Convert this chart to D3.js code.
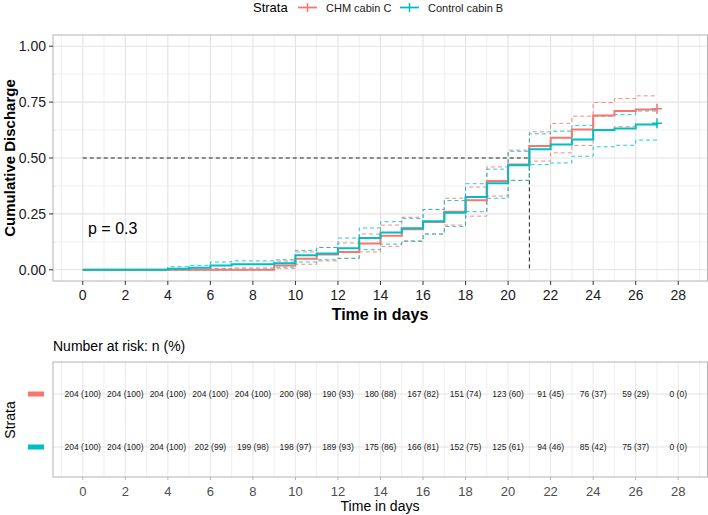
<!DOCTYPE html>
<html><head><meta charset="utf-8">
<script src="https://cdn.jsdelivr.net/npm/d3@7"></script>
<style>body{margin:0;background:#fff}svg{display:block;font-family:"Liberation Sans",Arial,sans-serif}</style>
</head><body><svg id="c" width="708" height="515"></svg>
<script>
// ---- data ----
const strata = ["CHM cabin C", "Control cabin B"];
const colors = ["#F8766D", "#00BFC4"];
const days = [0,1,2,3,4,5,6,7,8,9,10,11,12,13,14,15,16,17,18,19,20,21,22,23,24,25,26,27];
const chmEst = [0,0,0,0,0,0,0,0,0,0.0196,0.05,0.069,0.08,0.118,0.152,0.181,0.214,0.26,0.311,0.397,0.471,0.554,0.59,0.627,0.69,0.71,0.717,0.72];
const chmUpper = [0,0,0,0,0,0,0,0,0,0.039,0.08,0.10,0.12,0.16,0.20,0.235,0.27,0.32,0.37,0.46,0.535,0.617,0.655,0.687,0.748,0.766,0.778,0.778];
const chmLower = [0,0,0,0,0,0,0,0,0,0.007,0.025,0.04,0.05,0.08,0.105,0.13,0.16,0.20,0.24,0.33,0.40,0.486,0.523,0.556,0.625,0.64,0.65,0.65];
const ctlEst = [0,0,0,0,0.0049,0.0098,0.0196,0.0245,0.0245,0.029,0.065,0.0735,0.097,0.142,0.167,0.186,0.217,0.255,0.326,0.387,0.468,0.539,0.56,0.583,0.625,0.632,0.65,0.655];
const ctlUpper = [0,0,0,0,0.014,0.02,0.035,0.04,0.04,0.045,0.087,0.10,0.142,0.187,0.215,0.23,0.27,0.31,0.385,0.45,0.53,0.608,0.62,0.646,0.687,0.694,0.71,0.71];
const ctlLower = [0,0,0,0,0,0,0.005,0.008,0.008,0.012,0.035,0.045,0.052,0.09,0.115,0.127,0.16,0.194,0.26,0.32,0.40,0.47,0.478,0.508,0.55,0.557,0.58,0.58];
const medianDay = 21;
const pText = "p = 0.3";
const xTicks = [0,2,4,6,8,10,12,14,16,18,20,22,24,26,28];
const yTicks = [0, 0.25, 0.5, 0.75, 1.0];
const yTickLabels = ["0.00","0.25","0.50","0.75","1.00"];
const riskTimes = [0,2,4,6,8,10,12,14,16,18,20,22,24,26,28];
const chmRisk = ["204 (100)","204 (100)","204 (100)","204 (100)","204 (100)","200 (98)","190 (93)","180 (88)","167 (82)","151 (74)","123 (60)","91 (45)","76 (37)","59 (29)","0 (0)"];
const ctlRisk = ["204 (100)","204 (100)","204 (100)","202 (99)","199 (98)","198 (97)","189 (93)","175 (86)","166 (81)","152 (75)","125 (61)","94 (46)","85 (42)","75 (37)","0 (0)"];

// ---- drawing ----
const svg = d3.select("#c");
const W = 708;
const x = d3.scaleLinear().domain([-1.4, 29.4]).range([53, 708]);
const y = d3.scaleLinear().domain([-0.05, 1.05]).range([281, 35]);
const gridMinorX = d3.range(-1, 30, 1).filter(d => d % 2 !== 0);
const gridMinorY = [0.125, 0.375, 0.625, 0.875];

// legend
const lg = svg.append("g");
lg.append("text").attr("x", 253).attr("y", 12).attr("font-size", 13).attr("fill", "#000").text("Strata");
const legX = [[298, 326], [400, 428]];
strata.forEach((s, i) => {
  const [kx, tx] = legX[i];
  lg.append("line").attr("x1", kx).attr("x2", kx + 19).attr("y1", 7.5).attr("y2", 7.5).attr("stroke", colors[i]).attr("stroke-width", 1.8);
  lg.append("line").attr("x1", kx + 9.5).attr("x2", kx + 9.5).attr("y1", 3).attr("y2", 12).attr("stroke", colors[i]).attr("stroke-width", 1.5);
  lg.append("text").attr("x", tx).attr("y", 11.5).attr("font-size", 11).attr("fill", "#1a1a1a").text(s);
});

// main panel grid
const mp = svg.append("g");
mp.selectAll(".gmx").data(gridMinorX).join("line").attr("x1", d => x(d)).attr("x2", d => x(d)).attr("y1", 35).attr("y2", 281).attr("stroke", "#ebebeb").attr("stroke-width", 0.8);
mp.selectAll(".gmy").data(gridMinorY).join("line").attr("x1", 53).attr("x2", W).attr("y1", d => y(d)).attr("y2", d => y(d)).attr("stroke", "#ebebeb").attr("stroke-width", 0.8);
mp.selectAll(".gx").data(xTicks).join("line").attr("x1", d => x(d)).attr("x2", d => x(d)).attr("y1", 35).attr("y2", 281).attr("stroke", "#e3e3e3").attr("stroke-width", 1.1);
mp.selectAll(".gy").data(yTicks).join("line").attr("x1", 53).attr("x2", W).attr("y1", d => y(d)).attr("y2", d => y(d)).attr("stroke", "#e3e3e3").attr("stroke-width", 1.1);

// median lines
mp.append("path").attr("d", `M${x(0)},${y(0.5)}H${x(medianDay)}V${y(0)}`).attr("fill", "none").attr("stroke", "#222").attr("stroke-width", 1).attr("stroke-dasharray", "4,3");

// curves
const line = d3.line().x((d, i) => x(days[i])).y(d => y(d)).curve(d3.curveStepAfter);
const series = [[chmEst, chmUpper, chmLower], [ctlEst, ctlUpper, ctlLower]];
series.forEach((s, i) => {
  [s[1], s[2]].forEach(ci => {
    mp.append("path").attr("d", line(ci)).attr("fill", "none").attr("stroke", colors[i]).attr("stroke-width", 1).attr("stroke-dasharray", "4,3").attr("opacity", 0.85);
  });
});
series.forEach((s, i) => {
  mp.append("path").attr("d", line(s[0])).attr("fill", "none").attr("stroke", colors[i]).attr("stroke-width", 2);
  const lx = x(days[days.length - 1]), ly = y(s[0][s[0].length - 1]);
  mp.append("path").attr("d", `M${lx - 5},${ly}H${lx + 5}M${lx},${ly - 5}V${ly + 5}`).attr("stroke", colors[i]).attr("stroke-width", 1.5);
});

// border
mp.append("rect").attr("x", 53).attr("y", 35).attr("width", W - 53.5).attr("height", 246).attr("fill", "none").attr("stroke", "#b3b3b3").attr("stroke-width", 1);

// axes
mp.selectAll(".xt").data(xTicks).join("line").attr("x1", d => x(d)).attr("x2", d => x(d)).attr("y1", 281).attr("y2", 285).attr("stroke", "#333");
mp.selectAll(".xl").data(xTicks).join("text").attr("x", d => x(d)).attr("y", 300).attr("text-anchor", "middle").attr("font-size", 14).attr("fill", "#1a1a1a").text(d => d);
mp.selectAll(".yt").data(yTicks).join("line").attr("x1", 49).attr("x2", 53).attr("y1", d => y(d)).attr("y2", d => y(d)).attr("stroke", "#333");
mp.selectAll(".yl").data(yTicks).join("text").attr("x", 46).attr("y", d => y(d) + 5).attr("text-anchor", "end").attr("font-size", 14).attr("fill", "#1a1a1a").text((d, i) => yTickLabels[i]);
mp.append("text").attr("x", 380).attr("y", 320).attr("text-anchor", "middle").attr("font-size", 16).attr("font-weight", "bold").attr("fill", "#000").text("Time in days");
mp.append("text").attr("transform", "translate(15,158) rotate(-90)").attr("text-anchor", "middle").attr("font-size", 15).attr("font-weight", "bold").attr("fill", "#000").text("Cumulative Discharge");
mp.append("text").attr("x", 88).attr("y", 234).attr("font-size", 16).attr("fill", "#000").text(pText);

// risk table
svg.append("text").attr("x", 53).attr("y", 351).attr("font-size", 14).attr("fill", "#000").text("Number at risk: n (%)");
const rt = svg.append("g");
const ry = d3.scalePoint().domain(strata).range([394, 447]);
rt.selectAll(".rgx").data(d3.range(-1, 30, 1)).join("line").attr("x1", d => x(d)).attr("x2", d => x(d)).attr("y1", 362).attr("y2", 477).attr("stroke", "#ebebeb").attr("stroke-width", d => d % 2 === 0 ? 1.1 : 0.8);
rt.selectAll(".rgy").data(strata).join("line").attr("x1", 53).attr("x2", W).attr("y1", d => ry(d)).attr("y2", d => ry(d)).attr("stroke", "#e3e3e3").attr("stroke-width", 1.1);
[chmRisk, ctlRisk].forEach((r, i) => {
  rt.selectAll(".rv" + i).data(r).join("text").attr("x", (d, j) => x(riskTimes[j])).attr("y", ry(strata[i]) + 3).attr("text-anchor", "middle").attr("font-size", 8.5).attr("fill", "#1a1a1a").text(d => d);
  rt.append("rect").attr("x", 28).attr("y", ry(strata[i]) - 2.5).attr("width", 16).attr("height", 5).attr("fill", colors[i]);
});
rt.append("rect").attr("x", 53).attr("y", 362).attr("width", W - 53.5).attr("height", 115).attr("fill", "none").attr("stroke", "#b3b3b3").attr("stroke-width", 1);
rt.selectAll(".rxt").data(xTicks).join("line").attr("x1", d => x(d)).attr("x2", d => x(d)).attr("y1", 477).attr("y2", 480).attr("stroke", "#b3b3b3");
rt.selectAll(".rxl").data(xTicks).join("text").attr("x", d => x(d)).attr("y", 496).attr("text-anchor", "middle").attr("font-size", 13).attr("fill", "#4d4d4d").text(d => d);
rt.append("text").attr("x", 380).attr("y", 511).attr("text-anchor", "middle").attr("font-size", 14).attr("fill", "#000").text("Time in days");
rt.append("text").attr("transform", "translate(15,420) rotate(-90)").attr("text-anchor", "middle").attr("font-size", 14).attr("fill", "#000").text("Strata");
</script></body></html>
